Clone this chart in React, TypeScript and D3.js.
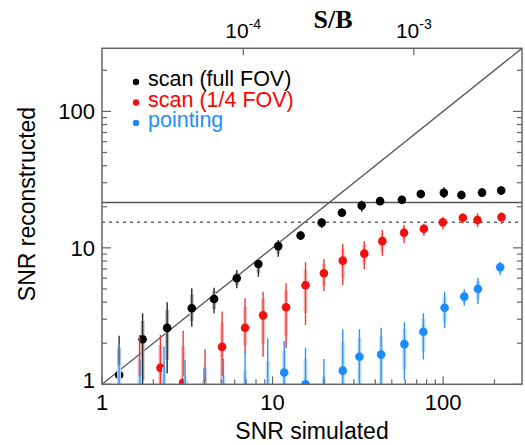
import React from "react";
import * as d3 from "d3";

// ---- data ----
const blackX = [1.26, 1.73, 2.41, 3.36, 4.54, 6.17, 8.26, 10.8, 14.6, 19.4, 25.5, 33.3, 42.7, 57.3, 74, 101, 128, 169, 219];
const blackY = [1.17, 2.14, 2.59, 3.61, 4.22, 5.98, 7.62, 10.3, 12.3, 15.3, 18.1, 20.4, 22.0, 22.5, 24.8, 25.3, 24.4, 25.4, 26.3];
const blackLo = [0.7, 0.8, 1.2, 2.64, 3.31, 5.06, 6.15, 8.62, 11.4, 13.9, 16.9, 18.4, 20.6, 20.9, 23.1, 23.1, 22.7, 23.7, 24.4];
const blackHi = [2.27, 3.31, 3.99, 5.06, 5.11, 6.89, 7.92, 11.4, 13.3, 16.5, 19.5, 22.2, 23.5, 24.0, 26.6, 27.8, 26.3, 27.4, 28.1];

const redX = [1.66, 2.2, 2.99, 4.02, 5.06, 6.9, 8.8, 12.0, 15.6, 20.0, 25.8, 34.5, 44.0, 59.0, 77.1, 99.6, 130.5, 159, 220];
const redY = [0.6, 1.32, 1.03, 0.6, 1.88, 2.6, 3.2, 3.67, 5.32, 6.51, 8.06, 9.07, 11.2, 12.9, 13.8, 15.4, 16.6, 16.0, 16.8];
const redLo = [0.3, 0.7, 0.7, 0.3, 0.8, 1.69, 1.59, 1.84, 2.72, 4.83, 5.35, 6.97, 8.72, 10.8, 12.2, 13.7, 15.1, 14.2, 14.9];
const redHi = [2.3, 2.3, 2.47, 1.81, 3.41, 4.27, 4.77, 5.5, 7.84, 8.25, 10.7, 11.2, 13.5, 14.7, 15.1, 16.9, 17.9, 17.9, 18.2];

const blueX = [1.26, 1.67, 2.31, 3.07, 3.97, 5.15, 6.9, 9.37, 11.7, 15.6, 20.0, 25.8, 32.3, 43.3, 59.3, 76.6, 102, 133, 160, 216];
const blueY = [0.6, 0.6, 0.6, 0.6, 0.6, 0.6, 0.6, 0.6, 1.22, 1.0, 0.6, 1.26, 1.59, 1.65, 1.97, 2.43, 3.64, 4.39, 5.0, 7.21];
const blueLo = [0.3, 0.3, 0.3, 0.3, 0.3, 0.3, 0.3, 0.3, 0.7, 0.6, 0.3, 0.7, 0.8, 0.8, 1.08, 1.52, 2.57, 3.77, 3.88, 6.33];
const blueHi = [2.0, 1.51, 1.89, 1.51, 1.33, 1.53, 1.75, 2.17, 2.08, 1.85, 1.53, 2.53, 2.53, 2.6, 2.85, 3.31, 4.77, 4.97, 6.05, 7.92];

const legendLabels = ["scan (full FOV)", "scan (1/4 FOV)", "pointing"];
const xTickValues = [1, 10, 100];
const yTickValues = [1, 10, 100];
const topTickExps = [-4, -3];
const SB_PER_SNR = 1.484e-5;
const saturationSolid = 21.5;
const saturationDashed = 15.4;
const domainMax = 290;

// ---- layout ----
const W = 525, H = 445;
const L = 102, R = 522, T = 48.3, B = 384.3;
const FONT = "'Liberation Sans', Arial, Helvetica, sans-serif";

const series = [
  { x: blackX, y: blackY, lo: blackLo, hi: blackHi, dot: "#000000", thin: "#2a2a2a", thick: "#bdbdbd", text: "#000000" },
  { x: redX, y: redY, lo: redLo, hi: redHi, dot: "#f01010", thin: "#f03a3a", thick: "#f9c0c0", text: "#ff0000" },
  { x: blueX, y: blueY, lo: blueLo, hi: blueHi, dot: "#1a8cff", thin: "#3393f2", thick: "#bfe0fd", text: "#1e8fff" },
];

export default function App() {
  const x = d3.scaleLog().domain([1, domainMax]).range([L, R]);
  const y = d3.scaleLog().domain([1, domainMax]).range([B, T]);
  const xTop = d3.scaleLog().domain([SB_PER_SNR, domainMax * SB_PER_SNR]).range([L, R]);

  const minorTicks: number[] = [];
  for (const dec of [1, 10, 100]) {
    for (let m = 1; m <= 9; m++) {
      const v = dec * m;
      if (v <= domainMax) minorTicks.push(v);
    }
  }
  const isMajor = (v: number) => Math.abs(Math.log10(v) - Math.round(Math.log10(v))) < 1e-9;

  const frac = 0.7;
  const inner = (p: number, e: number) => Math.pow(10, Math.log10(p) + frac * (Math.log10(e) - Math.log10(p)));

  const line = d3.line<[number, number]>().x((d) => x(d[0])).y((d) => y(d[1]));

  return (
    <svg width={W} height={H} style={{ position: "absolute", left: 0, top: 0, background: "#fff" }} fontFamily={FONT}>
      <defs>
        <clipPath id="plotclip">
          <rect x={L} y={T} width={R - L} height={B - T} />
        </clipPath>
      </defs>
      <rect x={0} y={0} width={W} height={H} fill="#fff" />

      <g clipPath="url(#plotclip)">
        {/* reference lines */}
        <path d={line([[1, 1], [domainMax, domainMax]]) || ""} stroke="#555" strokeWidth={1.3} fill="none" />
        <path d={line([[1, saturationSolid], [domainMax, saturationSolid]]) || ""} stroke="#555" strokeWidth={1.5} fill="none" />
        <path d={line([[1, saturationDashed], [domainMax, saturationDashed]]) || ""} stroke="#666" strokeWidth={1.3} strokeDasharray="3,4" fill="none" />

        {series.map((s, si) => (
          <g key={si}>
            {s.x.map((xv, i) => (
              <g key={i}>
                <line x1={x(xv)} x2={x(xv)} y1={y(inner(s.y[i], s.lo[i]))} y2={y(inner(s.y[i], s.hi[i]))} stroke={s.thick} strokeWidth={4} />
                <line x1={x(xv)} x2={x(xv)} y1={y(s.lo[i])} y2={y(s.hi[i])} stroke={s.thin} strokeWidth={1.4} />
              </g>
            ))}
            {s.x.map((xv, i) => (
              <circle key={"c" + i} cx={x(xv)} cy={y(s.y[i])} r={4.3} fill={s.dot} />
            ))}
          </g>
        ))}
      </g>

      {/* frame */}
      <rect x={L} y={T} width={R - L} height={B - T} fill="none" stroke="#666" strokeWidth={1.5} />

      {/* bottom & right/left ticks */}
      {minorTicks.map((v) => (
        <g key={"t" + v} stroke="#666" strokeWidth={1.2}>
          <line x1={x(v)} x2={x(v)} y1={B} y2={B - (isMajor(v) ? 8 : 5)} />
          <line x1={L} x2={L + (isMajor(v) ? 9 : 5)} y1={y(v)} y2={y(v)} />
          <line x1={R} x2={R - (isMajor(v) ? 9 : 5)} y1={y(v)} y2={y(v)} />
        </g>
      ))}
      {/* top ticks (S/B) */}
      {topTickExps.map((e) => (
        <line key={"tt" + e} x1={xTop(Math.pow(10, e))} x2={xTop(Math.pow(10, e))} y1={T} y2={T + 7} stroke="#666" strokeWidth={1.2} />
      ))}

      {/* tick labels */}
      {xTickValues.map((v) => (
        <text key={"xl" + v} x={x(v)} y={410} textAnchor="middle" fontSize={22} fill="#000">{v}</text>
      ))}
      {yTickValues.map((v) => (
        <text key={"yl" + v} x={95} y={Math.min(y(v), 380) + 8} textAnchor="end" fontSize={22} fill="#000">{v}</text>
      ))}
      {topTickExps.map((e) => (
        <text key={"tl" + e} x={xTop(Math.pow(10, e)) - 18} y={38} fontSize={21} fill="#000">
          10<tspan dy={-9} fontSize={14}>{e}</tspan>
        </text>
      ))}
      <text x={333} y={28} textAnchor="middle" fontSize={26} fontWeight="bold" fontFamily="'Liberation Serif', 'Times New Roman', serif" fill="#000">S/B</text>

      {/* axis titles */}
      <text x={312} y={439} textAnchor="middle" fontSize={23} fill="#000">SNR simulated</text>
      <text transform={`translate(35, 204) rotate(-90)`} textAnchor="middle" fontSize={23} fill="#000">SNR reconstructed</text>

      {/* legend */}
      {legendLabels.map((lab, i) => (
        <g key={"lg" + i}>
          <circle cx={136} cy={82 + i * 20.5} r={3.2} fill={series[i].dot} />
          <text x={148} y={86 + i * 20.5} fontSize={21.5} fill={series[i].text}>{lab}</text>
        </g>
      ))}
    </svg>
  );
}
